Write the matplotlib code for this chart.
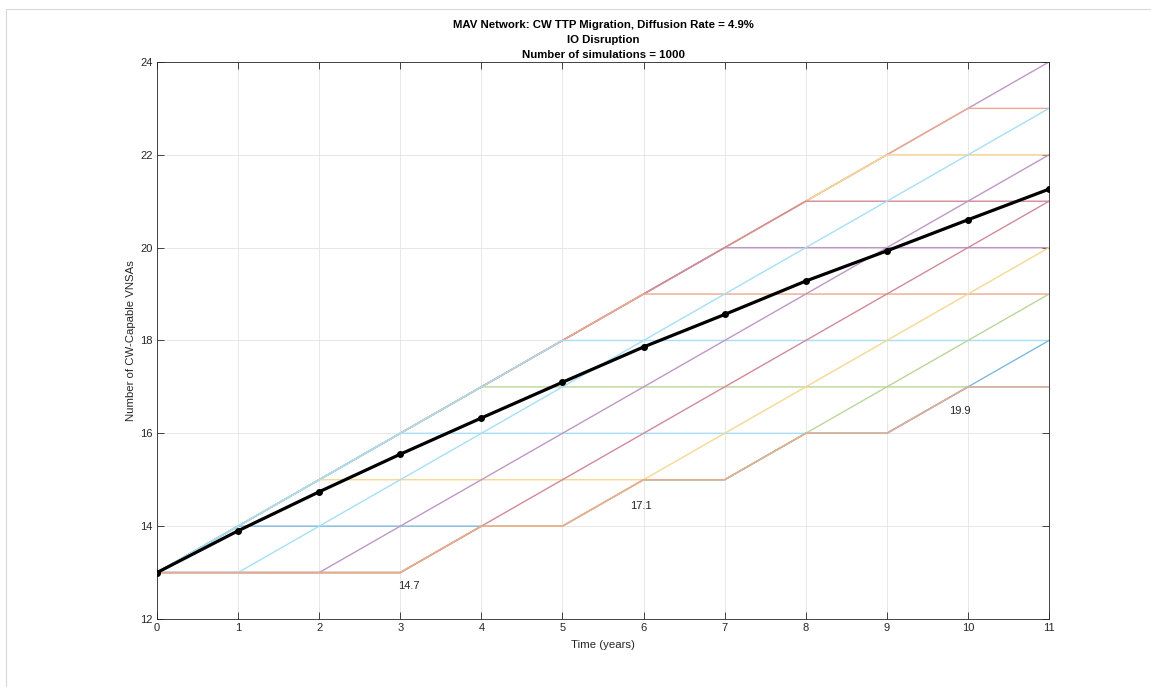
import matplotlib
matplotlib.use("Agg")
import matplotlib.pyplot as plt
from matplotlib.colors import to_rgb
from matplotlib.patches import Rectangle

# Time axis (years)
years = list(range(12))

# Distinct simulated trajectories visible in the figure (number of CW-capable VNSAs)
path_low = [13, 13, 13, 13, 14, 14, 15, 15, 16, 16, 17, 17]
path_d0 = [13, 14, 15, 16, 17, 18, 19, 20, 21, 22, 23, 24]
path_d1 = [13, 13, 14, 15, 16, 17, 18, 19, 20, 21, 22, 23]
path_d2 = [13, 13, 13, 14, 15, 16, 17, 18, 19, 20, 21, 22]
path_d3 = [13, 13, 13, 13, 14, 15, 16, 17, 18, 19, 20, 21]
path_d5 = [13, 13, 13, 13, 14, 14, 15, 16, 17, 18, 19, 20]
path_d7 = [13, 13, 13, 13, 14, 14, 15, 15, 16, 17, 18, 19]
path_d9 = [13, 13, 13, 13, 14, 14, 15, 15, 16, 16, 17, 18]
path_h14 = [13, 14, 14, 14, 14, 14, 15, 15, 16, 16, 17, 17]
path_h15 = [13, 14, 15, 15, 15, 15, 15, 15, 16, 16, 17, 17]
path_h16 = [13, 14, 15, 16, 16, 16, 16, 16, 16, 16, 17, 17]
path_h17 = [13, 14, 15, 16, 17, 17, 17, 17, 17, 17, 17, 17]
path_h18 = [13, 14, 15, 16, 17, 18, 18, 18, 18, 18, 18, 18]
path_h19 = [13, 14, 15, 16, 17, 18, 19, 19, 19, 19, 19, 19]
path_h20 = [13, 14, 15, 16, 17, 18, 19, 20, 20, 20, 20, 20]
path_h21 = [13, 14, 15, 16, 17, 18, 19, 20, 21, 21, 21, 21]
path_h22 = [13, 14, 15, 16, 17, 18, 19, 20, 21, 22, 22, 22]
path_h23 = [13, 14, 15, 16, 17, 18, 19, 20, 21, 22, 23, 23]

# Mean over all simulations
mean_vnsa = [13.0, 13.9, 14.74, 15.55, 16.33, 17.1, 17.86, 18.56, 19.28, 19.93, 20.6, 21.26]

# Text labels shown in the plot
note_labels = ["14.7", "17.1", "19.9"]
note_x = [2.97, 5.84, 9.77]
note_y = [12.72, 14.44, 16.47]

# MATLAB default colour order
mblue, morange, myellow = "#0072BD", "#D95319", "#EDB120"
mpurple, mgreen, mlblue, mred = "#7E2F8E", "#77AC30", "#4DBEEE", "#A2142F"


def pale(c, f=0.5):
    r, g, b = to_rgb(c)
    return (r * f + 1 - f, g * f + 1 - f, b * f + 1 - f)


# draw order matters: later lines cover shared segments
sims = [
    (path_d0, mpurple), (path_h23, morange), (path_h22, myellow),
    (path_h20, mpurple), (path_h21, mred), (path_h19, morange),
    (path_h17, mgreen), (path_h15, myellow), (path_h14, mblue),
    (path_h18, mlblue), (path_h16, mlblue),
    (path_d9, mblue), (path_d7, mgreen), (path_d5, myellow),
    (path_d3, mred), (path_d2, mpurple), (path_d1, mlblue),
    (path_low, morange),
]

fig = plt.figure(figsize=(11.51, 6.87), dpi=100)
ax = fig.add_axes([0.1364, 0.0990, 0.7750, 0.8108])

for vals, col in sims:
    ax.plot(years, vals, color=pale(col, 0.5), linewidth=1.0)

ax.plot(years, mean_vnsa, color="black", linewidth=2.3, marker="o",
        markersize=4, zorder=5)

for lab, x, y in zip(note_labels, note_x, note_y):
    ax.text(x, y, lab, fontsize=8, color="#262626", ha="left", va="center",
            family="Liberation Sans")

ax.set_xlim(0, 11)
ax.set_ylim(12, 24)
ax.set_xticks(range(0, 12))
ax.set_yticks(range(12, 25, 2))
ax.grid(True, color="#e3e3e3", linewidth=0.6)
ax.set_axisbelow(True)
ax.tick_params(direction="in", length=5, width=0.6, colors="#262626",
               labelsize=8, top=True, right=True, pad=3)
for lbl in ax.get_xticklabels() + ax.get_yticklabels():
    lbl.set_family("Liberation Sans")
for sp in ax.spines.values():
    sp.set_color("#262626")
    sp.set_linewidth(0.6)

ax.set_xlabel("Time (years)", fontsize=8.2, color="#262626",
              family="Liberation Sans", labelpad=5)
ax.set_ylabel("Number of CW-Capable VNSAs", fontsize=8.2, color="#262626",
              family="Liberation Sans", labelpad=3)
ax.set_title("MAV Network: CW TTP Migration, Diffusion Rate = 4.9%\n"
             "IO Disruption\nNumber of simulations = 1000",
             fontsize=8.2, fontweight="bold", family="Liberation Sans",
             linespacing=1.62, pad=3)

# faint frame of the original screenshot
fig.patches.append(Rectangle((6 / 1151, -0.01), 1.05, 1 - 9 / 687 + 0.01,
                             transform=fig.transFigure, fill=False,
                             edgecolor="#d9d9d9", linewidth=0.8))

fig.savefig("out.png", dpi=100)
